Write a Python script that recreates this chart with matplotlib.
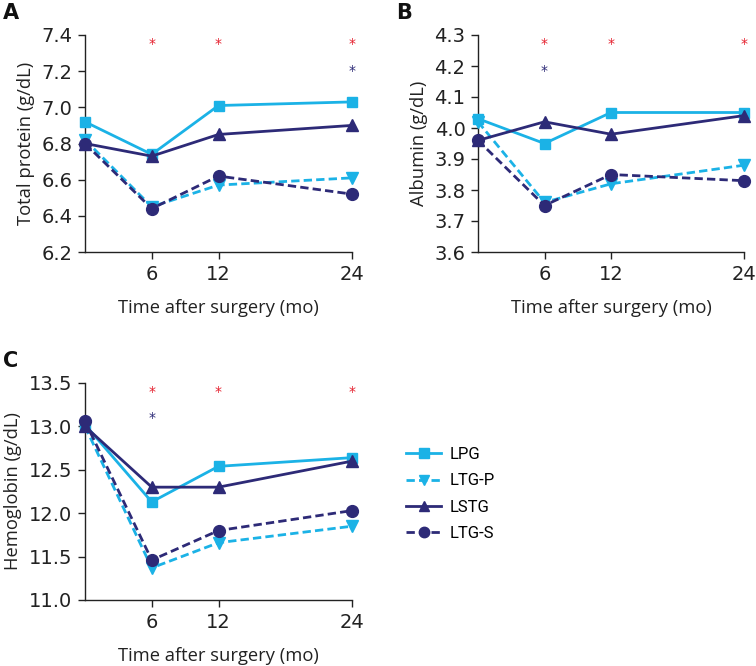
import matplotlib
matplotlib.use("Agg")
import matplotlib.pyplot as plt
from matplotlib.lines import Line2D

months = [0, 6, 12, 24]
tick_months = [6, 12, 24]
series_names = ["LPG", "LTG-P", "LSTG", "LTG-S"]

tp_lpg = [6.92, 6.74, 7.01, 7.03]
tp_ltgp = [6.82, 6.45, 6.57, 6.61]
tp_lstg = [6.80, 6.73, 6.85, 6.90]
tp_ltgs = [6.80, 6.44, 6.62, 6.52]

alb_lpg = [4.03, 3.95, 4.05, 4.05]
alb_ltgp = [4.02, 3.76, 3.82, 3.88]
alb_lstg = [3.96, 4.02, 3.98, 4.04]
alb_ltgs = [3.96, 3.75, 3.85, 3.83]

hb_lpg = [13.02, 12.13, 12.54, 12.64]
hb_ltgp = [13.00, 11.37, 11.66, 11.85]
hb_lstg = [13.00, 12.30, 12.30, 12.60]
hb_ltgs = [13.06, 11.46, 11.80, 12.03]

# significance stars: (x, y) for red and navy markers
tp_red_x, tp_red_y = [6, 12, 24], [7.35, 7.35, 7.35]
tp_blue_x, tp_blue_y = [24], [7.2]
alb_red_x, alb_red_y = [6, 12, 24], [4.27, 4.27, 4.27]
alb_blue_x, alb_blue_y = [6], [4.185]
hb_red_x, hb_red_y = [6, 12, 24], [13.4, 13.4, 13.4]
hb_blue_x, hb_blue_y = [6], [13.1]

LIGHT = "#1BB2E6"
NAVY = "#2D2A77"
RED = "#E5202E"

styles = [
    dict(color=LIGHT, ls="-", marker="s", ms=7.5),
    dict(color=LIGHT, ls=(0, (3, 1.5)), marker="v", ms=8),
    dict(color=NAVY, ls="-", marker="^", ms=8),
    dict(color=NAVY, ls=(0, (3, 1.5)), marker="o", ms=8.5),
]

W, H = 756, 666
fig = plt.figure(figsize=(W / 100, H / 100), dpi=100)

def rect(l, r, t, b):
    return [l / W, 1 - b / H, (r - l) / W, (b - t) / H]

tickfont = dict(family="DejaVu Sans", size=14)
labfont = dict(family="Open Sans", size=13.2)

panels = [
    (rect(85, 352, 35, 252), [tp_lpg, tp_ltgp, tp_lstg, tp_ltgs], (6.2, 7.4), [6.2, 6.4, 6.6, 6.8, 7.0, 7.2, 7.4], "%.1f",
     "Total protein (g/dL)", "A", (tp_red_x, tp_red_y), (tp_blue_x, tp_blue_y)),
    (rect(478, 744, 35, 252), [alb_lpg, alb_ltgp, alb_lstg, alb_ltgs], (3.6, 4.3), [3.6, 3.7, 3.8, 3.9, 4.0, 4.1, 4.2, 4.3], "%.1f",
     "Albumin (g/dL)", "B", (alb_red_x, alb_red_y), (alb_blue_x, alb_blue_y)),
    (rect(85, 352, 383, 600), [hb_lpg, hb_ltgp, hb_lstg, hb_ltgs], (11.0, 13.5), [11.0, 11.5, 12.0, 12.5, 13.0, 13.5], "%.1f",
     "Hemoglobin (g/dL)", "C", (hb_red_x, hb_red_y), (hb_blue_x, hb_blue_y)),
]

for pos, data, ylim, yticks, fmt, ylabel, letter, red, blue in panels:
    ax = fig.add_axes(pos)
    for vals, st in zip(data, styles):
        ax.plot(months, vals, color=st["color"], ls=st["ls"], lw=2, marker=st["marker"],
                ms=st["ms"], mec=st["color"], mfc=st["color"], clip_on=False, zorder=3)
    for x, y in zip(*red):
        ax.text(x, y, "*", color=RED, ha="center", va="center", fontsize=10, family="DejaVu Sans")
    for x, y in zip(*blue):
        ax.text(x, y, "*", color=NAVY, ha="center", va="center", fontsize=10, family="DejaVu Sans")
    ax.set_xlim(0, 24)
    ax.set_ylim(*ylim)
    ax.set_xticks(tick_months)
    ax.set_xticklabels([str(m) for m in tick_months], **tickfont)
    ax.set_yticks(yticks)
    ax.set_yticklabels([fmt % v for v in yticks], **tickfont)
    for s in ["top", "right"]:
        ax.spines[s].set_visible(False)
    for s in ["left", "bottom"]:
        ax.spines[s].set_linewidth(1.0)
        ax.spines[s].set_color("#222222")
    ax.tick_params(direction="out", length=5, width=1, colors="#222222", pad=4)
    ax.set_xlabel("Time after surgery (mo)", labelpad=11, **labfont, color="#222222")
    ax.set_ylabel(ylabel, labelpad=5, **labfont, color="#222222")
    p = ax.get_position()
    fig.text(p.x0 - 82 / W, p.y1 + 22 / H, letter, fontsize=15, fontweight="bold",
             family="DejaVu Sans", ha="left", va="center", color="#111111")

handles = [Line2D([0], [0], color=st["color"], ls=st["ls"], lw=2, marker=st["marker"],
                  ms=st["ms"] - 1, mec=st["color"], mfc=st["color"]) for st in styles]
fig.legend(handles, series_names, loc="upper left", bbox_to_anchor=(391 / W, 1 - 432 / H),
           frameon=False, prop=dict(family="Roboto", size=12), handlelength=2.1,
           labelspacing=0.68, handletextpad=0.5)

fig.savefig("out.png", dpi=100)
